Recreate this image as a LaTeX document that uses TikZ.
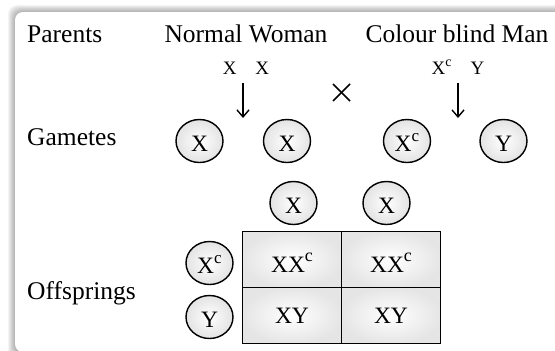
\documentclass[tikz,border=0pt]{standalone}
\usepackage{fontspec}
\setmainfont{Liberation Serif}
\usetikzlibrary{shapes.geometric,arrows.meta}
\newcommand\supC[2]{\raisebox{#2}{\fontsize{#1}{#1}\selectfont c}}
\tikzset{
  lbl/.style={font=\fontsize{25.5}{30}\selectfont, inner sep=0pt},
  geno/.style={font=\fontsize{19}{22}\selectfont, inner sep=0pt},
  gam/.style={ellipse, draw, line width=1.4pt, minimum width=47pt, minimum height=43pt, inner sep=0pt,
    text height=21pt, text depth=0pt,
    shading=radial, inner color=white, outer color=black!11, font=\fontsize{23.5}{26}\selectfont},
  cell/.style={rectangle, draw, line width=1.7pt, minimum width=99pt, minimum height=56pt, inner sep=0pt,
    shading=radial, inner color=white, outer color=black!10, font=\fontsize{23.5}{26}\selectfont},
  arr/.style={line width=1.4pt, -{Straight Barb[length=7pt,width=12pt,line width=1.4pt]}},
}
\begin{document}
\begin{tikzpicture}[x=1pt,y=-1pt]
\useasboundingbox (0,0) rectangle (555,351);
\fill[white] (0,0) rectangle (555,351);
% shadow of the frame
\foreach \i in {0,...,7} {
  \fill[black, opacity=0.045, rounded corners=9pt] (15-\i,12-\i) rectangle (600,353+\i);
}
\fill[white, rounded corners=8pt] (15,12) rectangle (600,352);
% labels
\node[lbl, anchor=base west] (parents) at (27,42) {Parents};
\node[lbl, anchor=base] (woman) at (246,42) {Normal Woman};
\node[lbl, anchor=base] (man) at (457,42) {Colour blind Man};
\node[geno, anchor=base] (xx) at (246,74) {X\quad X};
\node[geno, anchor=base] (xcy) at (458,74) {X\supC{14}{8pt}\quad Y};
\node[lbl, anchor=base west] (gametes) at (27,145) {Gametes};
\node[lbl, anchor=base west] (offs) at (27,299) {Offsprings};
% arrows
\coordinate (a1s) at (243,83); \coordinate (a1e) at (243,118);
\coordinate (a2s) at (458,83); \coordinate (a2e) at (458,118);
\draw[arr] (a1s) -- (a1e);
\draw[arr] (a2s) -- (a2e);
% cross
\coordinate (cr1) at (333,84); \coordinate (cr2) at (350,101);
\coordinate (cr3) at (350,84); \coordinate (cr4) at (333,101);
\draw[line width=1.5pt] (cr1) -- (cr2);
\draw[line width=1.5pt] (cr3) -- (cr4);
% gametes
\node[gam] (g1) at (199.5,141) {X};
\node[gam] (g2) at (287,141) {X};
\node[gam] (g3) at (407,141) {X\supC{17}{10pt}};
\node[gam] (g4) at (503.5,141) {Y};
% punnett square
\node[gam] (t1) at (293.5,203) {X};
\node[gam] (t2) at (386.5,203) {X};
\node[gam] (l1) at (209.5,263) {X\supC{17}{10pt}};
\node[gam] (l2) at (209.5,317) {Y};
\node[cell, text height=25pt, text depth=0pt] (c11) at (292,259.5) {XX\supC{18}{11pt}};
\node[cell, text height=25pt, text depth=0pt] (c12) at (391,259.5) {XX\supC{18}{11pt}};
\node[cell] (c21) at (292,315.5) {XY};
\node[cell] (c22) at (391,315.5) {XY};
\end{tikzpicture}
\end{document}
